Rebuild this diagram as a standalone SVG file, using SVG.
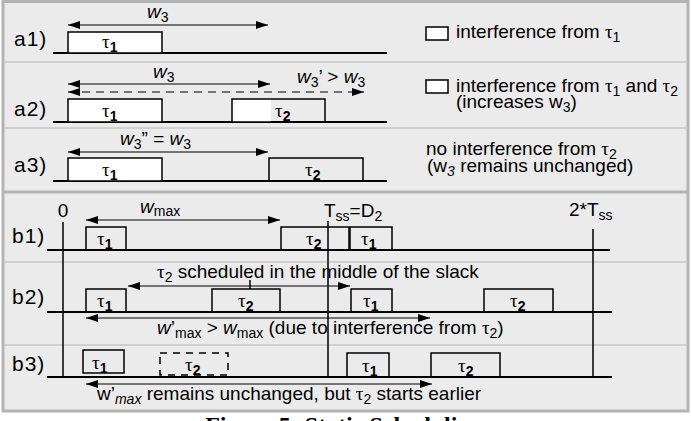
<svg xmlns="http://www.w3.org/2000/svg" width="691" height="421" viewBox="0 0 691 421">
<style>
text{font-family:"Liberation Sans",Arial,sans-serif;font-size:19px;fill:#000}
.lbl{font-size:21px;letter-spacing:1px}
.tau{font-family:"Liberation Serif","Times New Roman",serif}
.sb{font-size:14px;font-weight:bold}
.sub{font-size:14px}
.it{font-style:italic}
.box{fill:none;stroke:#000;stroke-width:1.5}
.wbox{fill:#fff;stroke:#000;stroke-width:1.5}
.tl{stroke:#000;stroke-width:1.8}
.vl{stroke:#000;stroke-width:1.5}
.sep{stroke:#c8c8c8;stroke-width:1.5}
.arr{stroke:#000;stroke-width:1.2;fill:none;marker-start:url(#ah);marker-end:url(#ah)}
.cap{font-family:"Liberation Serif","Times New Roman",serif;font-weight:bold;font-size:24px}
</style>
<defs>
<marker id="ah" viewBox="0 0 12 8" refX="12" refY="4" markerWidth="12" markerHeight="8" markerUnits="userSpaceOnUse" orient="auto-start-reverse">
<path d="M0,0 L12,4 L0,8 Z" fill="#000"/>
</marker>
</defs>
<rect x="0" y="0" width="691" height="421" fill="#fff"/>
<rect x="3" y="1.5" width="685" height="409.5" fill="#ebebeb" stroke="#b4b4b4" stroke-width="3"/>
<g id="separators">
<line class="sep" x1="4" y1="62" x2="687" y2="62"/>
<line class="sep" x1="4" y1="128" x2="687" y2="128"/>
<line x1="4" y1="192" x2="687" y2="192" stroke="#b4b4b4" stroke-width="3"/>
<line class="sep" x1="4" y1="262" x2="687" y2="262"/>
<line class="sep" x1="4" y1="345" x2="687" y2="345"/>
</g>

<g id="a1">
<text class="lbl" x="14" y="46">a1)</text>
<line class="tl" x1="53" y1="53" x2="387" y2="53"/>
<rect class="wbox" x="68" y="32" width="94" height="21"/>
<text x="102" y="48"><tspan class="tau">τ</tspan><tspan class="sb" dy="4">1</tspan></text>
<text x="147" y="18"><tspan class="it">w</tspan><tspan class="sub" dy="4">3</tspan></text>
<rect class="wbox" x="426" y="27" width="22" height="13" stroke-width="1.2"/>
<text x="456" y="38">interference from <tspan class="tau">τ</tspan><tspan class="sub" dy="4">1</tspan></text>
</g>

<g id="a2">
<text class="lbl" x="14" y="116">a2)</text>
<line class="tl" x1="53" y1="122" x2="387" y2="122"/>
<rect class="wbox" x="68" y="99" width="94" height="23"/>
<text x="102" y="117"><tspan class="tau">τ</tspan><tspan class="sb" dy="4">1</tspan></text>
<rect x="232" y="99" width="39" height="23" fill="#fff"/>
<rect class="box" x="232" y="99" width="93" height="23"/>
<text x="275" y="117"><tspan class="tau">τ</tspan><tspan class="sb" dy="4">2</tspan></text>
<text x="153" y="78"><tspan class="it">w</tspan><tspan class="sub" dy="4">3</tspan></text>
<text x="297" y="83"><tspan class="it">w</tspan><tspan class="sub" dy="4">3</tspan><tspan dy="-4">’ &gt; </tspan><tspan class="it">w</tspan><tspan class="sub" dy="4">3</tspan></text>
<rect class="wbox" x="426" y="80" width="22" height="13" stroke-width="1.2"/>
<text x="456" y="92">interference from <tspan class="tau">τ</tspan><tspan class="sub" dy="4">1</tspan><tspan dy="-4"> and </tspan><tspan class="tau">τ</tspan><tspan class="sub" dy="4">2</tspan></text>
<text x="456" y="108">(increases w<tspan class="sub" dy="4">3</tspan><tspan dy="-4">)</tspan></text>
</g>

<g id="a3">
<text class="lbl" x="14" y="172">a3)</text>
<line class="tl" x1="53" y1="181" x2="387" y2="181"/>
<rect class="wbox" x="68" y="158" width="94" height="23"/>
<text x="102" y="176"><tspan class="tau">τ</tspan><tspan class="sb" dy="4">1</tspan></text>
<rect class="box" x="269" y="158" width="94" height="23"/>
<text x="305" y="176"><tspan class="tau">τ</tspan><tspan class="sb" dy="4">2</tspan></text>
<text x="120" y="145"><tspan class="it">w</tspan><tspan class="sub" dy="4">3</tspan><tspan dy="-4">” = </tspan><tspan class="it">w</tspan><tspan class="sub" dy="4">3</tspan></text>
<text x="426" y="155">no interference from <tspan class="tau">τ</tspan><tspan class="sub" dy="4">2</tspan></text>
<text x="427" y="172">(w<tspan class="sub it" dy="4">3</tspan><tspan dy="-4"> remains unchanged)</tspan></text>
</g>

<g id="timeaxes">
<line class="vl" x1="63" y1="222" x2="63" y2="378"/>
<line class="vl" x1="328" y1="221" x2="328" y2="378"/>
<line class="vl" x1="593" y1="229" x2="593" y2="378"/>
<text x="63" y="217" text-anchor="middle">0</text>
<text x="324" y="217">T<tspan class="sub" dy="4">ss</tspan><tspan dy="-4">=D</tspan><tspan class="sub" dy="4">2</tspan></text>
<text x="569" y="216">2*T<tspan class="sub" dy="4">ss</tspan></text>
</g>

<g id="b1">
<text class="lbl" x="12" y="243">b1)</text>
<line class="tl" x1="47" y1="250" x2="610" y2="250"/>
<rect class="box" x="86" y="227" width="40" height="23"/>
<text x="97" y="245"><tspan class="tau">τ</tspan><tspan class="sb" dy="4">1</tspan></text>
<rect class="box" x="281" y="227" width="68" height="23"/>
<text x="306" y="245"><tspan class="tau">τ</tspan><tspan class="sb" dy="4">2</tspan></text>
<rect class="box" x="350" y="227" width="42" height="23"/>
<text x="361" y="245"><tspan class="tau">τ</tspan><tspan class="sb" dy="4">1</tspan></text>
<text x="140" y="213"><tspan class="it">w</tspan><tspan class="sub" dy="3">max</tspan></text>
</g>

<g id="b2">
<text class="lbl" x="12" y="304">b2)</text>
<line class="tl" x1="47" y1="312" x2="612" y2="312"/>
<rect class="box" x="86" y="289" width="40" height="23"/>
<text x="97" y="307"><tspan class="tau">τ</tspan><tspan class="sb" dy="4">1</tspan></text>
<rect class="box" x="212" y="289" width="68" height="23"/>
<text x="238" y="307"><tspan class="tau">τ</tspan><tspan class="sb" dy="4">2</tspan></text>
<rect class="box" x="351" y="289" width="41" height="23"/>
<text x="363" y="307"><tspan class="tau">τ</tspan><tspan class="sb" dy="4">1</tspan></text>
<rect class="box" x="484" y="289" width="69" height="23"/>
<text x="510" y="307"><tspan class="tau">τ</tspan><tspan class="sb" dy="4">2</tspan></text>
<line class="vl" x1="250" y1="280" x2="250" y2="289" stroke-width="1"/>
<text x="157" y="278"><tspan class="tau">τ</tspan><tspan class="sub" dy="4">2</tspan><tspan dy="-4"> scheduled in the middle of the slack</tspan></text>
<text x="157" y="334"><tspan class="it">w</tspan><tspan>’</tspan><tspan class="sub" dy="4">max</tspan><tspan dy="-4"> &gt; </tspan><tspan class="it">w</tspan><tspan class="sub" dy="4">max</tspan><tspan dy="-4"> (due to interference from </tspan><tspan class="tau">τ</tspan><tspan class="sub" dy="4">2</tspan><tspan dy="-4">)</tspan></text>
</g>

<g id="b3">
<text class="lbl" x="12" y="371">b3)</text>
<line class="tl" x1="47" y1="377" x2="612" y2="377"/>
<rect class="box" x="83" y="350" width="41" height="23"/>
<text x="92" y="369"><tspan class="tau">τ</tspan><tspan class="sb" dy="4">1</tspan></text>
<rect class="box" x="160" y="353" width="68" height="22" stroke-dasharray="7,6"/>
<text x="185" y="371"><tspan class="tau">τ</tspan><tspan class="sb" dy="4">2</tspan></text>
<rect class="box" x="347" y="353" width="42" height="24"/>
<text x="362" y="372"><tspan class="tau">τ</tspan><tspan class="sb" dy="4">1</tspan></text>
<rect class="box" x="431" y="353" width="69" height="24"/>
<text x="458" y="372"><tspan class="tau">τ</tspan><tspan class="sb" dy="4">2</tspan></text>
<text x="97" y="400">w’<tspan class="sub it" dy="4">max</tspan><tspan dy="-4"> remains unchanged, but </tspan><tspan class="tau">τ</tspan><tspan class="sub" dy="4">2</tspan><tspan dy="-4"> starts earlier</tspan></text>
</g>

<g id="connectors">
<line class="arr" x1="68" y1="25" x2="268" y2="25"/>
<line class="arr" x1="68" y1="84" x2="270" y2="84"/>
<line class="arr" x1="68" y1="92" x2="364" y2="92" stroke-dasharray="8,6"/>
<line class="arr" x1="68" y1="152" x2="268" y2="152"/>
<line class="arr" x1="86" y1="220" x2="280" y2="220"/>
<line class="arr" x1="128" y1="286" x2="350" y2="286"/>
<line class="arr" x1="86" y1="318" x2="430" y2="318"/>
<line class="arr" x1="86" y1="384" x2="432" y2="384"/>
</g>

<text class="cap" x="344" y="433" text-anchor="middle">Figure 5: Static Scheduling</text>
</svg>
